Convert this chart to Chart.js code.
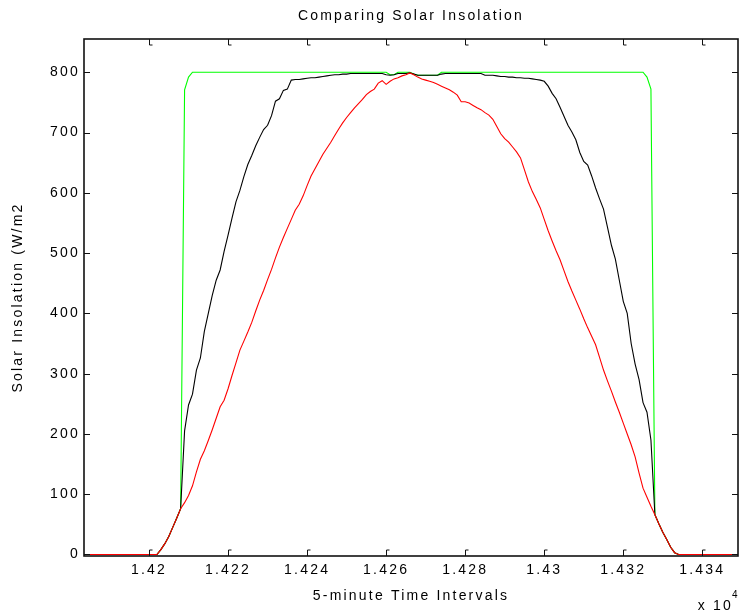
<!DOCTYPE html>
<html>
<head>
<meta charset="utf-8">
<script src="https://cdn.jsdelivr.net/npm/chart.js@4.4.1/dist/chart.umd.min.js"></script>
<style>
  html, body { margin: 0; padding: 0; background: #fff; }
</style>
</head>
<body>
<canvas id="solar" width="740" height="615"></canvas>
<script>
// 5-minute interval index of the first sample, one sample per interval
const firstInterval = 14183;

// measured insolation (red)
const measured = [
  0,0,0,0,0,0,0,0,0,0,0,0,0,0,0,0,0,0,0,
  0,8,18,30,45,60,76,86,98,114,
  137,158,172,189,207,226,245,256,275,297,
  318,339,354,369,385,404,422,438,456,473,
  492,510,526,541,556,571,581,595,612,628,
  640,652,664,674,684,695,706,716,725,733,
  741,748,755,763,768,772,782,786,780,785,
  789,791,794,796,799,796,792,789,787,785,
  783,780,777,774,771,767,762,751,751,749,
  745,741,738,733,729,722,710,698,690,684,
  676,668,658,638,618,602,589,575,556,537,
  520,504,489,471,453,437,422,407,391,376,
  362,348,327,306,288,271,253,236,218,200,
  182,162,135,110,95,80,66,51,37,25,
  12,3,0,0,0,0,0,0,0,0,
  0,0,0,0,0,0,0,0
];

// tracking insolation (black)
const tracking = [
  0,0,0,0,0,0,0,0,0,0,0,0,0,0,0,0,0,0,0,
  0,8,18,30,45,60,76,205,248,266,
  306,326,370,400,430,455,472,503,530,558,
  585,604,627,647,662,678,692,705,712,728,
  752,756,770,772,787,788,788,789,790,791,
  791,792,793,794,795,796,796,797,797,798,
  798,798,798,798,798,798,798,798,796,795,
  796,798,798,798,799,797,795,795,795,795,
  795,795,797,798,798,798,798,798,798,798,
  798,798,798,795,795,795,794,793,793,792,
  792,791,791,790,790,789,788,787,785,777,
  765,756,742,727,712,701,688,667,652,646,
  628,608,590,573,543,513,490,455,420,400,
  350,316,290,252,236,190,66,51,37,25,
  12,3,0,0,0,0,0,0,0,0,
  0,0,0,0,0,0,0,0
];

// clipped insolation (green)
const clipped = [
  0,0,0,0,0,0,0,0,0,0,0,0,0,0,0,0,0,0,0,
  0,8,18,30,45,60,76,771,792,800,
  800,800,800,800,800,800,800,800,800,800,
  800,800,800,800,800,800,800,800,800,800,
  800,800,800,800,800,800,800,800,800,800,
  800,800,800,800,800,800,800,800,800,800,
  800,800,800,800,800,800,800,800,800,796,
  796,800,800,800,800,797,795,795,795,795,
  795,795,800,800,800,800,800,800,800,800,
  800,800,800,800,800,800,800,800,800,800,
  800,800,800,800,800,800,800,800,800,800,
  800,800,800,800,800,800,800,800,800,800,
  800,800,800,800,800,800,800,800,800,800,
  800,800,800,800,792,772,66,51,37,25,
  12,3,0,0,0,0,0,0,0,0,
  0,0,0,0,0,0,0,0
];

const xTicks = [14200, 14220, 14240, 14260, 14280, 14300, 14320, 14340];
const yTicks = [0, 100, 200, 300, 400, 500, 600, 700, 800];

const X_MIN = 14183.55, X_MAX = 14349.03;
const Y_MIN = -2.5, Y_MAX = 855.2;

const FONT = { family: 'Liberation Sans', size: 14 };
const SPACING = '2.2px';

const toPoints = (vals) => vals.map((v, i) => ({ x: firstInterval + i, y: v }));

// matlab-ish frame: box, inward ticks, title and the x 10^4 exponent
const matlabFrame = {
  id: 'matlabFrame',
  beforeUpdate(chart) { chart.ctx.letterSpacing = SPACING; },
  beforeDraw(chart) {
    const ctx = chart.ctx;
    ctx.letterSpacing = SPACING;
    ctx.save();
    ctx.fillStyle = '#fff';
    ctx.fillRect(0, 0, chart.width, chart.height);
    ctx.restore();
  },
  afterDraw(chart) {
    const { ctx, chartArea: a, scales } = chart;
    ctx.save();
    ctx.strokeStyle = '#111';
    ctx.lineWidth = 1.6;
    ctx.strokeRect(a.left, a.top, a.right - a.left, a.bottom - a.top);

    ctx.lineWidth = 1;
    ctx.beginPath();
    xTicks.forEach(t => {
      const px = Math.round(scales.x.getPixelForValue(t)) + 0.5;
      ctx.moveTo(px, a.bottom); ctx.lineTo(px, a.bottom - 6); ctx.lineTo(px + 3, a.bottom - 6);
      ctx.moveTo(px, a.top); ctx.lineTo(px, a.top + 6); ctx.lineTo(px + 3, a.top + 6);
    });
    yTicks.forEach(t => {
      const py = Math.round(scales.y.getPixelForValue(t)) + 0.5;
      ctx.moveTo(a.left, py); ctx.lineTo(a.left + 6, py);
      ctx.moveTo(a.right, py); ctx.lineTo(a.right - 6, py);
    });
    ctx.stroke();

    ctx.fillStyle = '#000';
    ctx.letterSpacing = SPACING;
    ctx.font = '14px "Liberation Sans"';
    ctx.textAlign = 'center';
    ctx.textBaseline = 'middle';
    ctx.fillText('Comparing Solar Insolation', (a.left + a.right) / 2, 16);

    ctx.textAlign = 'right';
    ctx.textBaseline = 'alphabetic';
    ctx.fillText('x 10', 733, 610);
    ctx.font = '10px "Liberation Sans"';
    ctx.textAlign = 'left';
    ctx.fillText('4', 732, 598);
    ctx.restore();
  }
};

new Chart(document.getElementById('solar'), {
  type: 'line',
  data: {
    datasets: [
      { label: 'Measured', data: toPoints(measured), borderColor: '#ff0000' },
      { label: 'Tracking', data: toPoints(tracking), borderColor: '#000000' },
      { label: 'Clipped', data: toPoints(clipped), borderColor: '#00ff00' }
    ]
  },
  options: {
    responsive: false,
    animation: false,
    layout: { padding: { top: 39, right: 2, left: 0, bottom: 0 } },
    elements: {
      point: { radius: 0 },
      line: { borderWidth: 1.1, tension: 0, fill: false }
    },
    plugins: {
      legend: { display: false },
      tooltip: { enabled: false },
      title: { display: false }
    },
    scales: {
      x: {
        type: 'linear',
        min: X_MIN,
        max: X_MAX,
        afterFit(s) { s.height = 59; },
        afterBuildTicks(s) { s.ticks = xTicks.map(v => ({ value: v })); },
        grid: { display: false, drawTicks: false },
        border: { display: false },
        ticks: {
          color: '#000', font: FONT, padding: 6, maxRotation: 0, autoSkip: false,
          callback: v => String(+(v / 10000).toFixed(4))
        },
        title: {
          display: true, text: '5-minute Time Intervals', color: '#000', font: FONT,
          padding: { top: 0, bottom: 10 }
        }
      },
      y: {
        min: Y_MIN,
        max: Y_MAX,
        afterFit(s) { s.width = 84; },
        afterBuildTicks(s) { s.ticks = yTicks.map(v => ({ value: v })); },
        grid: { display: false, drawTicks: false },
        border: { display: false },
        ticks: { color: '#000', font: FONT, padding: 4 },
        title: {
          display: true, text: 'Solar Insolation (W/m2', color: '#000', font: FONT,
          padding: { top: 10, bottom: 0 }
        }
      }
    }
  },
  plugins: [matlabFrame]
});
</script>
</body>
</html>
